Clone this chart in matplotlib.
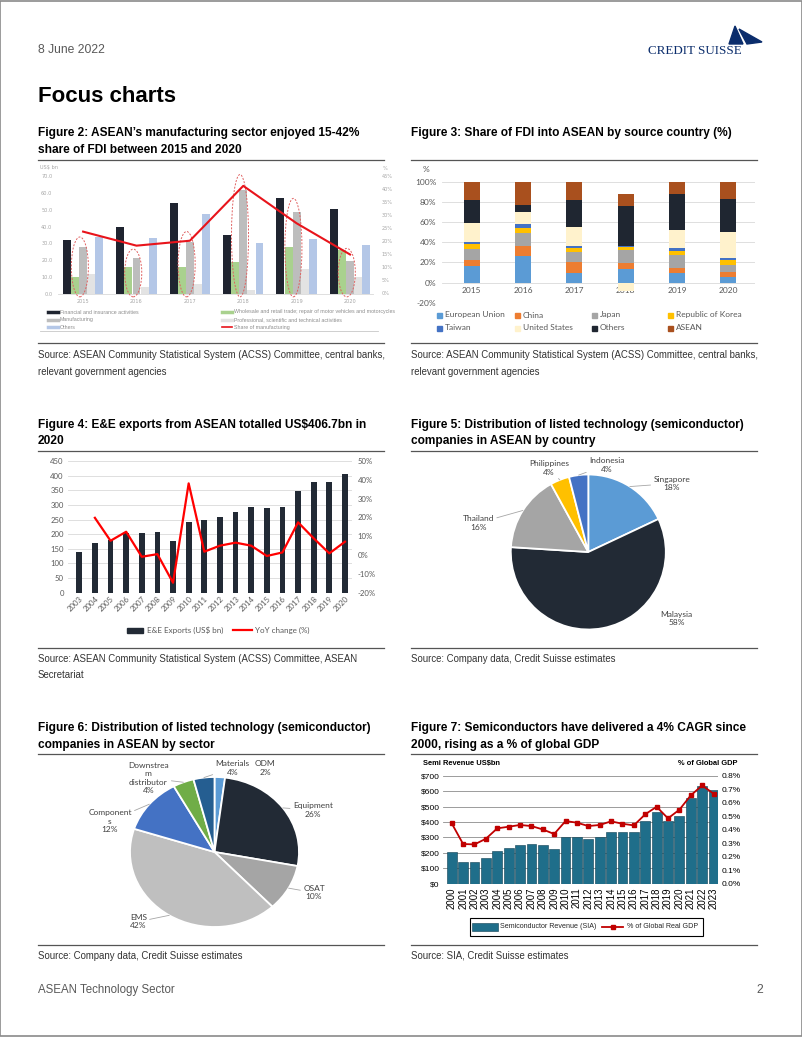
import matplotlib
matplotlib.use('Agg')
import matplotlib.pyplot as plt
import numpy as np
from matplotlib.patches import Rectangle, Ellipse, Polygon
from matplotlib.lines import Line2D

# ---------------- data ----------------
# Figure 2: FDI by sector (US$ bn) and manufacturing share (%)
fdi_sector_years = ['2015', '2016', '2017', '2018', '2019', '2020']
fdi_sector_names = ['Financial and insurance activities',
                    'Wholesale and retail trade; repair of motor vehicles and motorcycles',
                    'Manufacturing',
                    'Professional, scientific and technical activities',
                    'Others']
fdi_finance = [32.0, 40.0, 54.0, 35.0, 57.0, 50.4]
fdi_wholesale = [10.0, 15.6, 16.0, 18.6, 27.6, 26.0]
fdi_manufacturing = [28.0, 21.4, 31.0, 62.0, 49.0, 19.6]
fdi_professional = [11.6, 4.0, 5.6, 2.0, 14.4, 10.0]
fdi_others = [34.0, 33.0, 47.4, 30.0, 32.6, 29.0]
fdi_manuf_share = [23.8, 18.4, 20.3, 41.4, 27.0, 15.0]
fdi_left_ticks = [0, 10, 20, 30, 40, 50, 60, 70]
fdi_right_ticks = [0, 5, 10, 15, 20, 25, 30, 35, 40, 45]

# Figure 3: share of FDI by source country (%)
src_years = ['2015', '2016', '2017', '2018', '2019', '2020']
src_names = ['European Union', 'China', 'Japan', 'Republic of Korea',
             'Taiwan', 'United States', 'Others', 'ASEAN']
src_eu = [16.8, 26.7, 9.9, 13.2, 9.2, 5.3]
src_china = [5.6, 9.6, 10.9, 6.6, 5.7, 5.6]
src_japan = [10.6, 13.2, 9.9, 12.5, 12.5, 6.3]
src_korea = [5.3, 5.0, 4.0, 2.7, 4.3, 5.2]
src_taiwan = [2.3, 3.6, 1.6, 1.3, 2.3, 2.4]
src_us = [18.8, 11.5, 19.1, -8.0, 18.1, 25.7]
src_others = [22.4, 7.3, 26.4, 39.6, 35.4, 32.0]
src_asean = [18.2, 23.1, 18.2, 11.6, 12.5, 17.5]
src_ticks = [-20, 0, 20, 40, 60, 80, 100]

# Figure 4: E&E exports
ee_years = ['2003', '2004', '2005', '2006', '2007', '2008', '2009', '2010', '2011',
            '2012', '2013', '2014', '2015', '2016', '2017', '2018', '2019', '2020']
ee_exports = [140, 171, 180, 203, 205, 207, 175, 243, 247, 260, 277, 292, 289, 294,
              346, 377, 379, 406.7]
ee_yoy = [np.nan, 19.8, 7.6, 12.4, -0.9, 0.5, -14.7, 38.1, 1.8, 5.0, 6.6, 5.0, -0.5,
          1.4, 17.4, 8.9, 0.9, 7.1]
ee_left_ticks = [0, 50, 100, 150, 200, 250, 300, 350, 400, 450]
ee_right_ticks = [-20, -10, 0, 10, 20, 30, 40, 50]

# Figure 5: listed tech companies by country (%)
country_names = ['Singapore', 'Malaysia', 'Thailand', 'Philippines', 'Indonesia']
country_shares = [18, 58, 16, 4, 4]

# Figure 6: listed tech companies by sector (%)
sector_names = ['ODM', 'Equipment', 'OSAT', 'EMS', 'Components',
                'Downstream distributor', 'Materials']
sector_label_text = ['ODM', 'Equipment', 'OSAT', 'EMS', 'Component\ns',
                     'Downstrea\nm\ndistributor', 'Materials']
sector_shares = [2, 26, 10, 42, 12, 4, 4]

# Figure 7: semiconductor revenue and share of GDP
semi_years = [str(y) for y in range(2000, 2024)]
semi_revenue = [203, 140, 143, 166, 212, 229, 248, 257, 248, 226, 300, 300, 292, 305,
                335, 335, 335, 408, 464, 408, 439, 553, 635, 607]
semi_gdp_share = [0.447, 0.294, 0.291, 0.333, 0.410, 0.422, 0.435, 0.427, 0.402, 0.368,
                  0.464, 0.452, 0.427, 0.435, 0.462, 0.444, 0.432, 0.514, 0.570, 0.484,
                  0.548, 0.654, 0.728, 0.667]
semi_left_ticks = [0, 100, 200, 300, 400, 500, 600, 700]
semi_right_ticks = [0.0, 0.1, 0.2, 0.3, 0.4, 0.5, 0.6, 0.7, 0.8]

# ---------------- helpers ----------------
W, H = 802, 1037
fig = plt.figure(figsize=(W / 100, H / 100), dpi=100)
fig.patch.set_facecolor('white')

SANS = ['Liberation Sans', 'DejaVu Sans']
XL = ['Lato', 'DejaVu Sans']
ARIAL = ['Liberation Sans', 'DejaVu Sans']
SERIF = ['Liberation Serif', 'DejaVu Serif']


def add_ax(x0, y0, x1, y1):
    return fig.add_axes([x0 / W, 1 - y1 / H, (x1 - x0) / W, (y1 - y0) / H])


def ftext(x, y, s, **kw):
    kw.setdefault('va', 'center')
    return fig.text(x / W, 1 - y / H, s, **kw)


def fline(x0, x1, y0, y1, **kw):
    fig.add_artist(Line2D([x0 / W, x1 / W], [1 - y0 / H, 1 - y1 / H],
                          transform=fig.transFigure, **kw))


def frect(x0, y0, x1, y1, **kw):
    fig.add_artist(Rectangle((x0 / W, 1 - y1 / H), (x1 - x0) / W, (y1 - y0) / H,
                             transform=fig.transFigure, **kw))


def clean(ax):
    for s in ax.spines.values():
        s.set_visible(False)
    ax.tick_params(length=0)


# ---------------- page furniture ----------------
fig.add_artist(Rectangle((0.0005, 0.0005), 0.999, 0.999, transform=fig.transFigure,
                         fill=False, edgecolor='#8a8a8a', lw=1.2))
ftext(38, 50, '8 June 2022', fontsize=8.7, color='#595959', family=SANS)
ftext(648, 51, 'CREDIT SUISSE', fontsize=9.4, color='#0B2D6C', family=SERIF)
fig.add_artist(Polygon([[735 / W, 1 - 26 / H], [743 / W, 1 - 44 / H], [729 / W, 1 - 44 / H]],
                       closed=True, transform=fig.transFigure, color='#0B2D6C'))
fig.add_artist(Polygon([[739 / W, 1 - 29 / H], [762 / W, 1 - 42 / H], [747 / W, 1 - 44 / H]],
                       closed=True, transform=fig.transFigure, color='#0B2D6C'))
ftext(38, 97, 'Focus charts', fontsize=16, weight='bold', family=SANS)

tkw = dict(fontsize=8.6, weight='bold', family=SANS, color='black')
ftext(38, 133, 'Figure 2: ASEAN\u2019s manufacturing sector enjoyed 15-42%', **tkw)
ftext(38, 150, 'share of FDI between 2015 and 2020', **tkw)
ftext(411, 133, 'Figure 3: Share of FDI into ASEAN by source country (%)', **tkw)
ftext(38, 425, r'Figure 4: E&E exports from ASEAN totalled US\$406.7bn in', **tkw)
ftext(38, 441, '2020', **tkw)
ftext(411, 425, 'Figure 5: Distribution of listed technology (semiconductor)', **tkw)
ftext(411, 441, 'companies in ASEAN by country', **tkw)
ftext(38, 728, 'Figure 6: Distribution of listed technology (semiconductor)', **tkw)
ftext(38, 745, 'companies in ASEAN by sector', **tkw)
ftext(411, 728, 'Figure 7: Semiconductors have delivered a 4% CAGR since', **tkw)
ftext(411, 745, '2000, rising as a % of global GDP', **tkw)

for y in (160, 451, 754):
    fline(38, 384, y, y, color='#555555', lw=0.9)
    fline(411, 757, y, y, color='#555555', lw=0.9)
for y in (343, 648, 945):
    fline(38, 384, y, y, color='#555555', lw=0.9)
    fline(411, 757, y, y, color='#555555', lw=0.9)

skw = dict(fontsize=6.9, family=SANS, color='#333333')
ftext(38, 355, 'Source: ASEAN Community Statistical System (ACSS) Committee, central banks,', **skw)
ftext(38, 372, 'relevant government agencies', **skw)
ftext(411, 355, 'Source: ASEAN Community Statistical System (ACSS) Committee, central banks,', **skw)
ftext(411, 372, 'relevant government agencies', **skw)
ftext(38, 659, 'Source: ASEAN Community Statistical System (ACSS) Committee, ASEAN', **skw)
ftext(38, 675, 'Secretariat', **skw)
ftext(411, 659, 'Source: Company data, Credit Suisse estimates', **skw)
ftext(38, 956, 'Source: Company data, Credit Suisse estimates', **skw)
ftext(411, 956, 'Source: SIA, Credit Suisse estimates', **skw)
ftext(38, 990, 'ASEAN Technology Sector', fontsize=8.3, color='#595959', family=SANS)
ftext(763, 990, '2', fontsize=8.7, color='#595959', family=SANS, ha='right')

# ---------------- Figure 2 ----------------
ax = add_ax(58, 176.5, 373, 293.5)
x = np.arange(len(fdi_sector_years))
bw = 0.152
f2_series = [fdi_finance, fdi_wholesale, fdi_manufacturing, fdi_professional, fdi_others]
f2_colors = ['#1F2430', '#A9D18E', '#BDBDBD', '#E3E3E3', '#B4C7E7']
for k, (vals, c) in enumerate(zip(f2_series, f2_colors)):
    ax.bar(x + (k - 2) * bw, vals, bw * 0.98, color=c, zorder=2)
for i in range(len(x)):
    top = max(fdi_manufacturing[i] * 1.1 + 3, fdi_wholesale[i] + 1)
    ax.add_patch(Ellipse((x[i] - 0.4 * bw, (top - 2) / 2), 2.1 * bw, top + 2,
                         fill=False, edgecolor='#E06060', lw=0.7, ls=(0, (2, 1.5)),
                         clip_on=False, zorder=4))
ax.set_xlim(-0.47, 5.43)
ax.set_ylim(0, 70)
clean(ax)
ax.spines['bottom'].set_visible(True)
ax.spines['bottom'].set_color('#D9D9D9')
ax.spines['bottom'].set_linewidth(0.6)
ax.set_yticks(fdi_left_ticks, [f'{t:.1f}' for t in fdi_left_ticks])
ax.set_xticks(x, fdi_sector_years)
ax.tick_params(labelsize=3.6, labelcolor='#A6A6A6', pad=4)
ax2 = ax.twinx()
ax2.plot(x, fdi_manuf_share, color='#E8141B', lw=1.5, zorder=5)
ax2.set_ylim(0, 45)
clean(ax2)
ax2.set_yticks(fdi_right_ticks, [f'{t}%' for t in fdi_right_ticks])
ax2.tick_params(labelsize=3.6, labelcolor='#A6A6A6', pad=6)
ftext(40, 168, r'US\$ bn', fontsize=3.6, color='#A6A6A6')
ftext(383, 168, '%', fontsize=3.6, color='#A6A6A6')
lg2 = [(48, 312, f2_colors[0], fdi_sector_names[0], 2.5),
       (48, 319.5, f2_colors[2], fdi_sector_names[2], 2.5),
       (48, 327, f2_colors[4], fdi_sector_names[4], 2.5),
       (222, 312, f2_colors[1], fdi_sector_names[1], 2.5),
       (222, 319.5, f2_colors[3], fdi_sector_names[3], 2.5),
       (222, 327, '#E8141B', 'Share of manufacturing', 1.2)]
for lx, ly, c, lab, lw in lg2:
    fline(lx, lx + 10, ly, ly, color=c, lw=lw)
    ftext(lx + 12, ly, lab, fontsize=3.8, color='#8C8C8C', family=ARIAL)
fline(40, 378, 331, 331, color='#C8C8C8', lw=0.6)

# ---------------- Figure 3 ----------------
ax = add_ax(441.7, 181.7, 755, 302.7)
src_series = [src_eu, src_china, src_japan, src_korea, src_taiwan, src_us, src_others, src_asean]
src_colors = ['#5B9BD5', '#ED7D31', '#A5A5A5', '#FFC000', '#4472C4', '#FFF2CC', '#1F2631', '#A9501E']
x = np.arange(len(src_years))
pos_base = np.zeros(len(x))
neg_base = np.zeros(len(x))
for vals, c in zip(src_series, src_colors):
    v = np.array(vals, dtype=float)
    base = np.where(v >= 0, pos_base, neg_base)
    ax.bar(x, v, 0.31, bottom=base, color=c, zorder=2)
    pos_base = np.where(v >= 0, pos_base + v, pos_base)
    neg_base = np.where(v < 0, neg_base + v, neg_base)
ax.set_xlim(-0.585, 5.52)
ax.set_ylim(-20, 100)
clean(ax)
ax.set_yticks(src_ticks, [f'{t}%' for t in src_ticks])
ax.yaxis.grid(True, color='#D9D9D9', lw=0.6, zorder=0)
ax.set_axisbelow(True)
ax.spines['bottom'].set_position(('data', 0))
ax.set_xticks(x, src_years)
ax.tick_params(labelsize=6, labelcolor='#595959')
ax.tick_params(axis='y', pad=4)
ax.tick_params(axis='x', pad=3.5)
for t in ax.get_xticklabels() + ax.get_yticklabels():
    t.set_family(XL)
ftext(426, 169, '%', fontsize=6, color='#595959', family=XL, ha='center')
lg3_x = [439, 517, 594, 670]
for k, (lab, c) in enumerate(zip(src_names, src_colors)):
    col = k % 4
    row = k // 4
    ly = 315 if row == 0 else 328
    lx = lg3_x[col]
    frect(lx - 2.5, ly - 2.5, lx + 2.5, ly + 2.5, color=c)
    ftext(lx + 6, ly, lab, fontsize=6, color='#595959', family=XL)

# ---------------- Figure 4 ----------------
ax = add_ax(68, 461, 352, 592.7)
x = np.arange(len(ee_years))
ax.bar(x, ee_exports, 0.37, color='#222A35', zorder=2)
ax.set_xlim(-0.72, 17.45)
ax.set_ylim(0, 450)
clean(ax)
ax.set_yticks(ee_left_ticks, [str(t) for t in ee_left_ticks])
ax.yaxis.grid(True, color='#D9D9D9', lw=0.6)
ax.set_axisbelow(True)
ax.set_xticks(x, ee_years, rotation=45, ha='right', rotation_mode='anchor')
ax.tick_params(labelsize=5.6, labelcolor='#595959')
ax.tick_params(axis='y', pad=3)
ax.tick_params(axis='x', pad=2)
for t in ax.get_xticklabels() + ax.get_yticklabels():
    t.set_family(XL)
ax2 = ax.twinx()
ax2.plot(x, ee_yoy, color='#FF0000', lw=1.6)
ax2.set_ylim(-20, 50)
clean(ax2)
ax2.set_yticks(ee_right_ticks, [f'{t}%' for t in ee_right_ticks])
ax2.tick_params(labelsize=5.6, labelcolor='#595959', pad=4)
for t in ax2.get_yticklabels():
    t.set_family(XL)
frect(127, 628, 143, 632.5, color='#222A35')
ftext(147, 630, r'E&E Exports (US\$ bn)', fontsize=5.8, color='#595959', family=XL)
fline(233, 252, 630, 630, color='#FF0000', lw=1.6)
ftext(255, 630, 'YoY change (%)', fontsize=5.8, color='#595959', family=XL)

# ---------------- Figure 5 ----------------
cx5, cy5, r5 = 588.3, 552.0, 77.5
ax = add_ax(cx5 - r5 * 1.05, cy5 - r5 * 1.05, cx5 + r5 * 1.05, cy5 + r5 * 1.05)
c5 = ['#5B9BD5', '#222A35', '#A5A5A5', '#FFC000', '#4472C4']
wedges, _ = ax.pie(country_shares, colors=c5, startangle=90, counterclock=False,
                   wedgeprops=dict(edgecolor='white', linewidth=1.3))
ax.set_xlim(-1.05, 1.05)
ax.set_ylim(-1.05, 1.05)
ax.set_aspect('auto')
ax.axis('off')
lab5_pos = {'Singapore': (671.7, 483.5), 'Malaysia': (676.7, 618.5), 'Thailand': (478.3, 523),
            'Philippines': (549, 468), 'Indonesia': (606.7, 465)}
no_leader5 = {'Malaysia'}
for w, name, sh in zip(wedges, country_names, country_shares):
    px, py = lab5_pos[name]
    tx, ty = (px - cx5) / r5, (cy5 - py) / r5
    th = np.deg2rad((w.theta1 + w.theta2) / 2)
    ap = None if name in no_leader5 else dict(arrowstyle='-', color='#A6A6A6', lw=0.6,
                                                shrinkA=0, shrinkB=0)
    ax.annotate(f'{name}\n{sh}%', xy=(np.cos(th) * 1.0, np.sin(th) * 1.0),
                xytext=(tx, ty), ha='center', va='center', fontsize=6, color='#404040',
                family=XL, linespacing=1.25, arrowprops=ap, annotation_clip=False)

# ---------------- Figure 6 ----------------
cx6, cy6, rx6, ry6 = 214.5, 852.0, 84.5, 75.0
ax = add_ax(cx6 - rx6 * 1.05, cy6 - ry6 * 1.05, cx6 + rx6 * 1.05, cy6 + ry6 * 1.05)
c6 = ['#5B9BD5', '#222A35', '#A5A5A5', '#BFBFBF', '#4472C4', '#70AD47', '#255E91']
wedges, _ = ax.pie(sector_shares, colors=c6, startangle=90, counterclock=False,
                   wedgeprops=dict(edgecolor='white', linewidth=1.3))
ax.set_xlim(-1.05, 1.05)
ax.set_ylim(-1.05, 1.05)
ax.set_aspect('auto')
ax.axis('off')
lab6_pos = {'ODM': (265, 768), 'Equipment': (312.7, 810), 'OSAT': (314, 892.7),
            'EMS': (138.3, 921.7), 'Components': (110, 821),
            'Downstream distributor': (148.3, 778), 'Materials': (232.5, 768)}
no_leader6 = {'ODM'}
for w, name, txt, sh in zip(wedges, sector_names, sector_label_text, sector_shares):
    px, py = lab6_pos[name]
    tx, ty = (px - cx6) / rx6, (cy6 - py) / ry6
    th = np.deg2rad((w.theta1 + w.theta2) / 2)
    ap = None if name in no_leader6 else dict(arrowstyle='-', color='#A6A6A6', lw=0.6,
                                                shrinkA=0, shrinkB=0)
    ax.annotate(f'{txt}\n{sh}%', xy=(np.cos(th) * 1.0, np.sin(th) * 1.0),
                xytext=(tx, ty), ha='center', va='center', fontsize=6, color='#404040',
                family=XL, linespacing=1.25, arrowprops=ap, annotation_clip=False)

# ---------------- Figure 7 ----------------
ax = add_ax(443.3, 775.7, 718.3, 883.7)
x = np.arange(len(semi_years))
ax.bar(x, semi_revenue, 0.86, color='#1F6E8A', edgecolor='#0E3F52', lw=0.4, zorder=2)
ax.set_xlim(-0.74, 23.42)
ax.set_ylim(0, 700)
clean(ax)
ax.set_yticks(semi_left_ticks, [rf'\${t}' for t in semi_left_ticks])
ax.yaxis.grid(True, color='#8C8C8C', lw=0.6)
ax.set_axisbelow(True)
ax.set_xticks(x, semi_years, rotation=90, va='top')
ax.tick_params(labelsize=6, labelcolor='black')
ax.tick_params(axis='y', pad=2.5)
ax.tick_params(axis='x', pad=2.5, labelsize=6.9)
for t in ax.get_xticklabels() + ax.get_yticklabels():
    t.set_family(ARIAL)
ax2 = ax.twinx()
ax2.plot(x, semi_gdp_share, color='#C00000', lw=1.3, marker='s', markersize=3.3)
ax2.set_ylim(0, 0.8)
clean(ax2)
ax2.set_yticks(semi_right_ticks, [f'{t:.1f}%' for t in semi_right_ticks])
ax2.tick_params(labelsize=6, labelcolor='black', pad=2.5)
for t in ax2.get_yticklabels():
    t.set_family(ARIAL)
ftext(423, 763.5, r'Semi Revenue US\$bn', fontsize=5.4, weight='bold', family=SANS)
ftext(738, 763.5, '% of Global GDP', fontsize=5.4, weight='bold', family=SANS, ha='right')
frect(470, 918, 703, 935.5, fill=False, edgecolor='black', lw=0.8)
frect(472, 923, 498, 931, facecolor='#1F6E8A', edgecolor='#0E3F52', lw=0.4)
ftext(500, 927, 'Semiconductor Revenue (SIA)', fontsize=5.1, family=SANS, color='#262626')
fline(602, 623, 927, 927, color='#C00000', lw=1.3)
fig.add_artist(Line2D([612.5 / W], [1 - 927 / H], transform=fig.transFigure, marker='s',
                      markersize=3.3, color='#C00000'))
ftext(627, 927, '% of Global Real GDP', fontsize=5.1, family=SANS, color='#262626')

fig.savefig('out.png', dpi=100, facecolor='white')
